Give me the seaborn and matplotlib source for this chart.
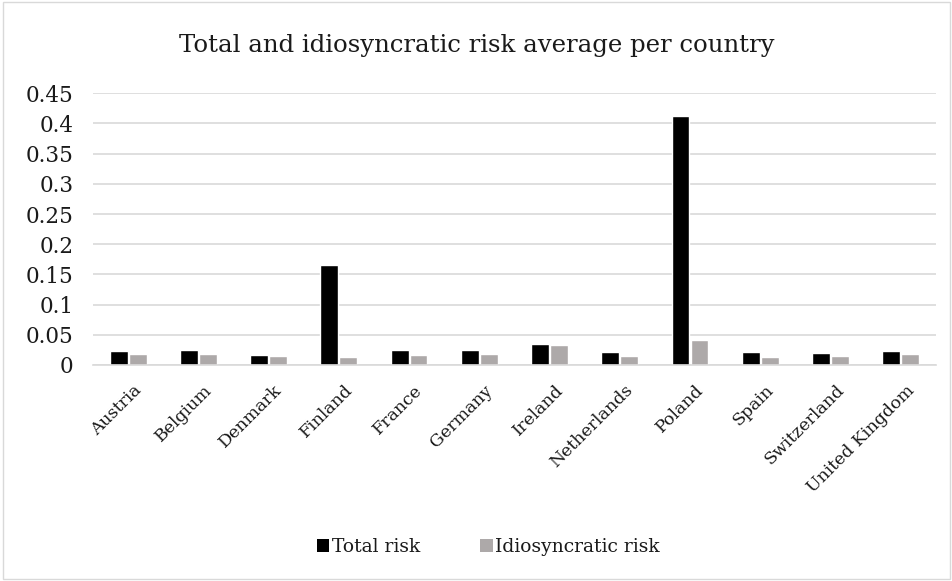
import matplotlib
matplotlib.use("Agg")
import matplotlib.pyplot as plt
import matplotlib.transforms as mtransforms
import seaborn as sns
import pandas as pd
from matplotlib.patches import Patch, Rectangle

countries = ["Austria", "Belgium", "Denmark", "Finland", "France", "Germany",
             "Ireland", "Netherlands", "Poland", "Spain", "Switzerland", "United Kingdom"]
total_risk = [0.023, 0.024, 0.017, 0.166, 0.024, 0.024,
              0.035, 0.021, 0.413, 0.021, 0.020, 0.023]
idio_risk = [0.018, 0.018, 0.015, 0.013, 0.017, 0.018,
             0.033, 0.015, 0.041, 0.014, 0.015, 0.018]
series_names = ["Total risk", "Idiosyncratic risk"]
y_ticks = [0, 0.05, 0.1, 0.15, 0.2, 0.25, 0.3, 0.35, 0.4, 0.45]
y_tick_labels = ["0", "0.05", "0.1", "0.15", "0.2", "0.25", "0.3", "0.35", "0.4", "0.45"]

colors = {"Total risk": "#000000", "Idiosyncratic risk": "#ADA9A9"}

df = pd.DataFrame({
    "Country": countries * 2,
    "Risk": total_risk + idio_risk,
    "Series": [series_names[0]] * len(countries) + [series_names[1]] * len(countries),
})

sns.set_theme(style="white")
plt.rcParams["font.family"] = ["DejaVu Serif"]

fig = plt.figure(figsize=(9.53, 5.81), dpi=100)
ax = fig.add_axes([0.0976, 0.3718, 0.8844, 0.4676])

sns.barplot(data=df, x="Country", y="Risk", hue="Series", palette=colors,
            width=0.54, gap=0.06, ax=ax, legend=False, saturation=1)

ax.set_ylim(0, 0.45)
ax.set_xlim(-0.5, len(countries) - 0.5)
ax.set_yticks(y_ticks)
ax.set_yticklabels(y_tick_labels, fontsize=15.5, color="#1a1a1a")
ax.yaxis.grid(True, color="#D9D9D9", linewidth=1.2)
ax.set_axisbelow(True)
ax.set_xlabel("")
ax.set_ylabel("")
for s in ["top", "right", "left"]:
    ax.spines[s].set_visible(False)
ax.spines["bottom"].set_color("#D9D9D9")
ax.spines["bottom"].set_linewidth(1.2)
ax.tick_params(axis="y", length=0, pad=14)
ax.tick_params(axis="x", length=0, pad=12)
ax.set_xticks(range(len(countries)))
ax.set_xticklabels(countries, rotation=45, ha="right", rotation_mode="anchor",
                   fontsize=12.5, color="#1a1a1a")
shift = mtransforms.ScaledTranslation(5 / 100, 0, fig.dpi_scale_trans)
for lbl in ax.get_xticklabels():
    lbl.set_transform(lbl.get_transform() + shift)

fig.text(0.5, 0.921, "Total and idiosyncratic risk average per country",
         ha="center", va="center", fontsize=17.6, color="#1a1a1a")

handles = [Patch(facecolor=colors[n], edgecolor="none") for n in series_names]
fig.legend(handles, series_names, loc="center", bbox_to_anchor=(0.5126, 0.058), ncol=2,
           frameon=False, fontsize=13.5, handlelength=0.65, handleheight=0.65,
           handletextpad=0.15, columnspacing=3.2, labelcolor="#1a1a1a")

fig.patches.append(Rectangle((0.003, 0.004), 0.994, 0.992, transform=fig.transFigure,
                             fill=False, edgecolor="#D9D9D9", linewidth=1))

fig.savefig("out.png", dpi=100)
